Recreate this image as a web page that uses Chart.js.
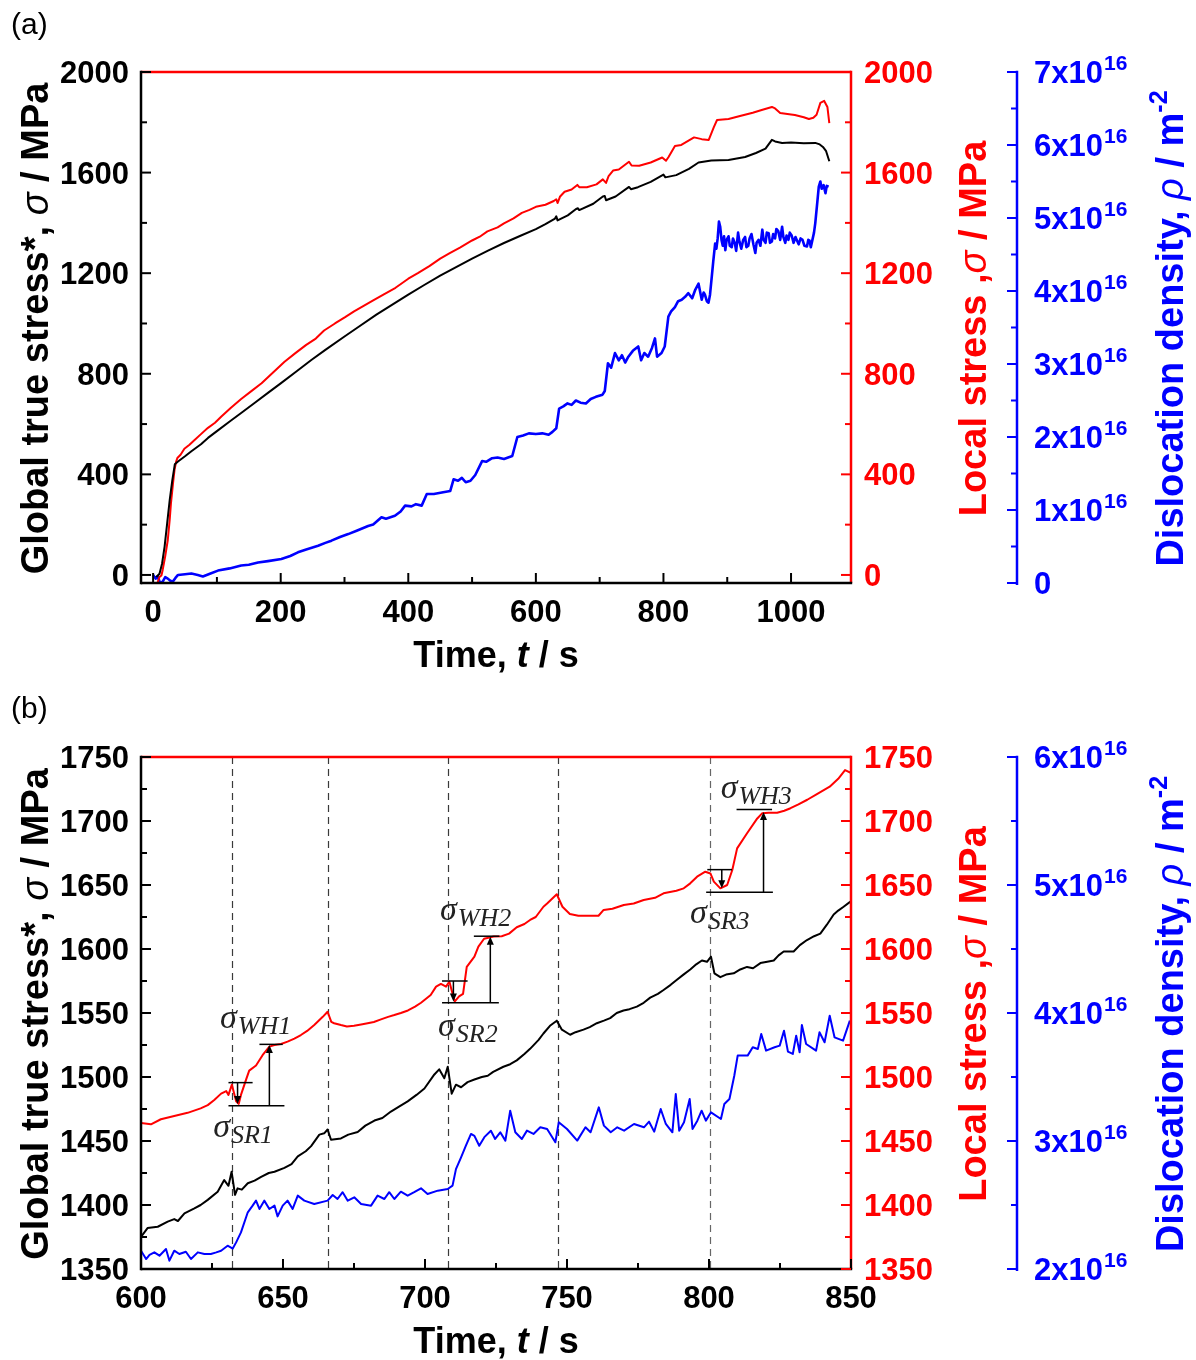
<!DOCTYPE html>
<html><head><meta charset="utf-8">
<script src="https://cdn.jsdelivr.net/npm/chart.js@4.4.0/dist/chart.umd.min.js"></script>
<style>
html,body{margin:0;padding:0;background:#fff;}
#wrap{position:relative;width:1196px;height:1360px;background:#fff;}
canvas{position:absolute;left:0;}
#ca{top:0;} #cb{top:680px;}
</style></head><body>
<div id="wrap"><canvas id="ca" width="1196" height="680"></canvas><canvas id="cb" width="1196" height="680"></canvas></div>
<script>
// ---------- Panel (a) data ----------
const aBlackT=[5,10,14,18,22,26,30,34,39,50,60,75,86,100,120,138,160,180,200,225,248,270,300,320,350,375,400,425,450,475,500,525,550,575,600,615,630,632,634,650,663,666,668,690,705,708,710,725,746,749,760,780,800,803,820,840,855,875,902,928,945,960,970,975,986,1000,1020,1038,1045,1050,1055,1060];
const aBlackS=[-8,5,45,113,205,298,375,440,451,472,492,520,545,572,610,644,686,724,762,810,855,895,948,983,1035,1075,1115,1153,1190,1224,1258,1290,1320,1348,1375,1395,1417,1426,1410,1430,1455,1458,1451,1476,1505,1507,1490,1505,1543,1534,1542,1563,1592,1581,1590,1615,1640,1648,1650,1662,1678,1695,1730,1724,1718,1720,1717,1718,1712,1702,1685,1645];
const aRedT=[7,10,13,15,19,23,26,28,31,33.5,36,38,43,49,57,65,75,86,97,107,122,138,155,170,188,206,223,240,255,268,285,301,315,330,345,361,380,400,415,433,450,465,481,500,512,524,540,550,565,578,590,600,615,628,632,634,638,645,656,665,668,680,695,705,710,714,721,730,746,750,762,780,798,804,808,818,828,848,860,871,879,884,902,920,940,954,970,975,983,1000,1006,1020,1028,1035,1040,1046,1052,1057,1060];
const aRedS=[-30,-8,-2,20,75,139,220,286,360,417,450,465,478,502,518,537,560,585,605,630,665,700,733,762,805,848,882,915,940,972,1000,1025,1048,1070,1092,1115,1142,1178,1200,1228,1258,1280,1302,1330,1345,1366,1382,1398,1418,1440,1452,1464,1472,1487,1494,1479,1505,1524,1533,1551,1542,1542,1553,1573,1559,1586,1608,1612,1643,1628,1627,1640,1660,1647,1662,1706,1710,1740,1733,1730,1781,1809,1813,1825,1838,1849,1861,1855,1837,1831,1829,1820,1813,1818,1830,1877,1885,1861,1797];
const aBlueT=[0,4,7,11,15,19,23,27,31,35,39,50,60,70,78,90,101.7,120,138,150,164.5,180,201,215,227,240,258.6,270,279.5,293,305.8,320,337,345,358,365,379,388,395,405,412,421,429,440,452.6,465.7,471,478,484,490,497.5,505,515.7,522,531.4,540,550,563,571,580,589,600,610,620,626,632,636.5,643,649.6,656,662.7,670,678.4,686,694,704.5,708,713,718,724,730,735,740,745,752,760.5,765,770,776,782,786.7,790,797,802,807.7,812,818,823,828.6,834,839,845,850,855,860,863,865,868,870.6,873,875.8,878,881,883,885,887,889,891,893,895,897,899,902,904,907,909,912,914,917,919,922,925,928,930,933,935,938,941,944,946,949,952,955,957,960,962,965,967,970,972,975,977,980,983,986,988,991,993,996,998,1001,1004,1007,1009,1012,1015,1018,1021,1025,1027,1029,1031,1033,1036,1038,1041,1043.5,1046,1048,1051,1054,1056,1059];
const aBlueR=[0.11,0.06,0.09,0.0,0.02,0.08,0.06,0.03,0.02,0.07,0.11,0.12,0.13,0.11,0.09,0.13,0.17,0.2,0.24,0.25,0.28,0.3,0.33,0.37,0.42,0.46,0.51,0.55,0.58,0.63,0.67,0.72,0.78,0.8,0.9,0.88,0.92,0.98,1.06,1.05,1.08,1.06,1.22,1.22,1.24,1.26,1.42,1.40,1.44,1.38,1.4,1.48,1.67,1.66,1.71,1.72,1.70,1.74,2.0,2.02,2.05,2.04,2.05,2.03,2.07,2.12,2.39,2.42,2.46,2.44,2.5,2.47,2.46,2.52,2.55,2.58,2.63,3.01,2.95,3.15,3.05,3.12,3.02,3.10,3.18,3.24,3.05,3.15,3.10,3.22,3.35,3.1,3.15,3.24,3.65,3.72,3.78,3.86,3.88,3.92,3.97,3.9,4.02,4.1,3.88,3.98,3.95,3.86,3.84,3.95,4.2,4.4,4.65,4.58,4.72,4.95,4.88,4.7,4.62,4.75,4.56,4.7,4.75,4.62,4.6,4.72,4.65,4.55,4.8,4.68,4.58,4.7,4.74,4.6,4.62,4.72,4.78,4.64,4.52,4.66,4.7,4.62,4.84,4.7,4.66,4.8,4.79,4.66,4.68,4.78,4.72,4.85,4.82,4.7,4.88,4.74,4.66,4.76,4.70,4.8,4.76,4.66,4.74,4.7,4.64,4.72,4.70,4.62,4.61,4.7,4.69,4.6,4.68,4.80,4.93,5.2,5.43,5.50,5.40,5.45,5.34,5.44,5.43];
const aXTicks=[0,200,400,600,800,1000];
const aXMinor=[100,300,500,700,900];
const aYTicks=[0,400,800,1200,1600,2000];
const aYMinor=[200,600,1000,1400,1800];
const aRhoTicks=[0,1,2,3,4,5,6,7];
const aRhoMinor=[0.5,1.5,2.5,3.5,4.5,5.5,6.5];

// ---------- Panel (b) data ----------
const bBlackT=[600,602.3,605.9,609.4,611.7,613,615.3,618.8,621,623.5,627,629.3,630.8,631.9,633.1,634,635.5,637.6,640,642.3,645,647,650.5,653,655.2,658,659.9,662.8,664.5,665.7,666.9,670.4,673,676.3,679,682.2,685,688,691,693.9,697,699.8,703.3,705,706.8,708,709.4,710.9,712.7,715,717.4,720,722.1,724,727.6,730,732.3,735,737,740,741.7,744,746.4,748.2,751.1,753,755.8,758,760.5,763,765.2,767.5,769.9,772,774.6,777,779.3,782,784,786.5,788.7,791,793.4,795.5,797.5,799.3,800.7,801.9,804,806,808.7,811,813.4,815.5,818.1,820.5,822.8,824.5,826.3,829.8,832,834.5,837,839.2,841.5,843.9,845.5,847.4,849.8];
const bBlackS=[1375,1382,1383,1387,1389,1387.5,1393.5,1397.4,1400,1404,1410.4,1419.5,1415,1426,1408,1413,1412,1417,1419,1422,1425,1426,1429,1432,1438,1442,1446,1455,1456,1459,1451,1452,1455,1457,1462,1466,1468,1473,1477,1481,1486,1491,1502,1506,1499,1508,1487,1494,1492,1496,1498,1500,1501,1504,1508,1510,1513,1518,1522,1529,1534,1540,1544,1537,1533,1535,1537,1539,1542,1544,1546,1550,1552,1553,1555,1558,1562,1565,1568,1572,1576,1580,1584,1588,1591,1590,1594,1581,1578,1580,1581,1584,1586,1585,1589,1590,1591,1595,1598,1598,1603,1607,1610,1612,1619,1627,1630,1633,1637];
const bRedT=[600,603.5,607,611.7,616.4,621,623.5,625.8,628.2,630,630.8,632,633.5,634.4,635.2,637,638.1,640.5,642.8,645.2,647,649.3,651.6,654,656.3,658.5,661,664,665.7,667,668,670.4,672.5,675,677.5,679.8,682,684.5,687,689.2,691.5,694,696.5,698.6,702,703.9,705.6,707.4,708.6,709.7,710.5,712,713.4,714.7,717.4,718.8,720.8,724.2,727,729.6,732.3,735,737,739,741.7,743,746.4,748.4,751,754,757.9,761.1,762.9,766,770,773.5,777,781,784,788.5,791.1,793.4,795.8,798.7,800.5,801.7,804,806.4,808.2,809.9,813.4,817,818.7,821,824,826.5,828.7,831.5,834.6,838,842.5,845.5,847.9,849.9];
const bRedS=[1464,1463,1467,1469.5,1472,1475.5,1478,1482,1487,1489,1486,1494,1481,1479,1486,1498,1505,1509,1517,1523.7,1525,1525.8,1527.6,1530,1532.8,1536,1540.6,1547,1551,1543,1542,1540.6,1539.5,1540,1541,1542,1543,1545,1547,1548.4,1550,1552,1555,1558,1564,1570.6,1572.7,1570.6,1574.5,1565,1559,1563,1565,1586,1594,1601.8,1608,1609.7,1610,1612,1617,1619.5,1622.7,1625,1633,1635.5,1642.8,1633,1627.3,1626,1626,1626,1630.5,1631.5,1634.4,1635.5,1638.3,1640,1643.5,1645.5,1647.4,1651.3,1656.5,1660.4,1659,1652.6,1647.4,1650,1661.7,1678.6,1690.4,1702,1706,1706.5,1706.5,1708,1710,1713,1716.6,1721,1726.8,1733,1739.8,1737.7];
const bBlueT=[600,601.8,603,604.7,606.5,608.8,610,611.7,613.5,615.8,617.6,620,622.3,624.6,626.5,628.2,630.5,632.3,633.5,635.2,637.6,639.3,640.5,641.7,643.4,645.2,647,648.1,649.9,651.6,653.4,655.2,657.5,661,665.7,667.5,669.2,671,672.8,675.1,677.5,681,683.3,685.7,687.4,689.2,691.5,693.9,696.2,698.6,700.9,704.5,708,709.7,710.9,712.7,714.4,716.2,717.4,719.1,720.9,723.2,724.7,726.5,728.3,730,731.8,734.1,735.9,738.2,740.6,743,745.9,747.1,750,753.6,756.5,758.3,761.2,763,765.4,767.7,770.1,773.6,777.1,778.9,780.7,783,784.8,787.1,788.3,789.5,791.2,793.2,794.2,795.9,797.4,798.9,800.7,804.2,805.4,807.2,808.9,810.1,813.6,815.4,817.2,818.4,820.1,823.1,824.9,826.4,827.8,829.5,830.7,831.9,832.7,834.2,837.7,838.9,840.7,842.5,844.2,847.2,849.6];
const bBlueR=[2.143,2.078,2.11,2.13,2.104,2.156,2.065,2.143,2.117,2.135,2.078,2.13,2.117,2.117,2.13,2.143,2.182,2.16,2.208,2.286,2.443,2.495,2.534,2.469,2.534,2.469,2.495,2.411,2.495,2.534,2.469,2.573,2.534,2.508,2.534,2.578,2.547,2.6,2.534,2.56,2.508,2.495,2.573,2.547,2.6,2.547,2.604,2.573,2.6,2.63,2.586,2.612,2.625,2.651,2.78,2.872,2.963,3.055,3.04,2.963,3.03,3.08,3.016,3.068,3.003,3.237,3.068,3.016,3.081,3.055,3.107,3.094,2.99,3.146,3.094,3.003,3.107,3.068,3.263,3.12,3.068,3.107,3.081,3.133,3.107,3.151,3.073,3.25,3.133,3.068,3.367,3.081,3.146,3.328,3.094,3.159,3.237,3.159,3.224,3.172,3.289,3.328,3.51,3.667,3.667,3.732,3.719,3.836,3.706,3.732,3.745,3.862,3.698,3.68,3.823,3.693,3.906,3.758,3.706,3.849,3.771,3.979,3.81,3.784,3.94];
const bXTicks=[600,650,700,750,800,850];
const bXMinor=[625,675,725,775,825];
const bYTicks=[1350,1400,1450,1500,1550,1600,1650,1700,1750];
const bYMinor=[1375,1425,1475,1525,1575,1625,1675,1725];
const bRhoTicks=[2,3,4,5,6];
const bRhoMinor=[2.5,3.5,4.5,5.5];
// dashed guide lines (time, s)
const bDashT=[632,665.7,708,746.7,800.3];
// annotation segments in data units: [t1, t2, stress]
const bHLines=[[630.8,639.3,1495.6],[630.8,650.5,1477.6],[641.7,649.9,1525.5],
               [706,715,1575],[706,726,1558],[717.2,726.2,1610],
               [799.4,808.1,1662],[799,822.5,1644.3],[809.7,822.2,1709]];
// arrows: [t, stress from, stress to]
const bArrows=[[634,1495.6,1479],[645.2,1477.6,1525],
               [710,1575,1559],[723,1558,1609.6],
               [804.5,1662,1647.4],[819.2,1644.3,1707]];
// labels: [subscript, t, stress]
const bLabels=[['WH1',627.8,1538.3],['SR1',625.4,1453.1],['WH2',705.3,1622.7],['SR2',704.6,1532],['WH3',804.1,1718],['SR3',793.3,1620]];

const FS="'Liberation Sans', Arial, sans-serif";
const SERIF="'Liberation Serif', 'Times New Roman', serif";
const RED='#ff0000', BLUE='#0000ff', BLACK='#000000';

function pts(ts,vs){return ts.map((t,i)=>({x:t,y:vs[i]}));}

function rich(ctx,segs,x,y,rot,color){
  ctx.save();ctx.translate(x,y);ctx.rotate(rot);
  ctx.textAlign='left';ctx.textBaseline='alphabetic';ctx.fillStyle=color;
  let tot=0;segs.forEach(s=>{ctx.font=s.f;s.w=ctx.measureText(s.t).width;tot+=s.w;});
  let cx=-tot/2;
  segs.forEach(s=>{ctx.font=s.f;ctx.fillText(s.t,cx,s.dy||0);cx+=s.w;});
  ctx.restore();
}

function makePlugin(P){
  return {
    id:'deco',
    beforeDatasetsDraw(chart){
      const ctx=chart.ctx,a=chart.chartArea,sx=chart.scales.x;
      if(P.dash){
        ctx.save();ctx.strokeStyle='#3a3a3a';ctx.lineWidth=1.2;ctx.setLineDash([7,5]);
        P.dash.forEach((t,i)=>{const x=Math.round(sx.getPixelForValue(t))+0.5;ctx.strokeStyle=i===P.dash.length-1?'#666':'#3a3a3a';ctx.beginPath();ctx.moveTo(x,a.top);ctx.lineTo(x,a.bottom);ctx.stroke();});
        ctx.restore();
      }
    },
    afterDraw(chart){
      const ctx=chart.ctx,a=chart.chartArea,S=chart.scales;
      const sx=S.x,sy=S.y,sy2=S.y2,sy3=S.y3;
      const BX=1017;
      ctx.save();
      ctx.lineCap='butt';
      ctx.lineWidth=2.5;
      ctx.strokeStyle=RED;
      ctx.beginPath();ctx.moveTo(a.left,a.top);ctx.lineTo(a.right,a.top);ctx.stroke();
      ctx.beginPath();ctx.moveTo(a.right,a.top-1.2);ctx.lineTo(a.right,a.bottom);ctx.stroke();
      ctx.strokeStyle=BLACK;
      ctx.beginPath();ctx.moveTo(a.left,a.top-1.2);ctx.lineTo(a.left,a.bottom+1.2);ctx.stroke();
      ctx.beginPath();ctx.moveTo(a.left,a.bottom);ctx.lineTo(a.right+1.2,a.bottom);ctx.stroke();
      ctx.strokeStyle=BLUE;
      ctx.beginPath();ctx.moveTo(BX,a.top-1.2);ctx.lineTo(BX,a.bottom+2);ctx.stroke();
      ctx.lineWidth=2;
      const tk=(col,list,len,fn)=>{ctx.strokeStyle=col;list.forEach(v=>{ctx.beginPath();fn(v,len);ctx.stroke();});};
      tk(BLACK,P.xT,10,(v,l)=>{const x=sx.getPixelForValue(v);ctx.moveTo(x,a.bottom);ctx.lineTo(x,a.bottom-l);});
      tk(BLACK,P.xM,6,(v,l)=>{const x=sx.getPixelForValue(v);ctx.moveTo(x,a.bottom);ctx.lineTo(x,a.bottom-l);});
      tk(BLACK,P.yT,10,(v,l)=>{const y=sy.getPixelForValue(v);ctx.moveTo(a.left,y);ctx.lineTo(a.left+l,y);});
      tk(BLACK,P.yM,6,(v,l)=>{const y=sy.getPixelForValue(v);ctx.moveTo(a.left,y);ctx.lineTo(a.left+l,y);});
      tk(RED,P.yT,10,(v,l)=>{const y=sy2.getPixelForValue(v);ctx.moveTo(a.right,y);ctx.lineTo(a.right-l,y);});
      tk(RED,P.yM,6,(v,l)=>{const y=sy2.getPixelForValue(v);ctx.moveTo(a.right,y);ctx.lineTo(a.right-l,y);});
      tk(BLUE,P.rT,10,(v,l)=>{const y=sy3.getPixelForValue(v);ctx.moveTo(BX,y);ctx.lineTo(BX-l,y);});
      tk(BLUE,P.rM,6,(v,l)=>{const y=sy3.getPixelForValue(v);ctx.moveTo(BX,y);ctx.lineTo(BX-l,y);});
      const LF='bold 31px '+FS;
      ctx.font=LF;ctx.textBaseline='alphabetic';
      ctx.fillStyle=BLACK;ctx.textAlign='center';
      P.xT.forEach(v=>ctx.fillText(String(v),sx.getPixelForValue(v),a.bottom+39));
      ctx.textAlign='right';
      P.yT.forEach(v=>ctx.fillText(String(v),a.left-12,sy.getPixelForValue(v)+11));
      ctx.fillStyle=RED;ctx.textAlign='left';
      P.yT.forEach(v=>ctx.fillText(String(v),a.right+13,sy2.getPixelForValue(v)+11));
      ctx.fillStyle=BLUE;
      P.rT.forEach(v=>{
        const y=sy3.getPixelForValue(v)+11;
        if(v===0){ctx.font=LF;ctx.fillText('0',BX+17,y);return;}
        ctx.font=LF;const base=v+'x10';ctx.fillText(base,BX+17,y);
        const w=ctx.measureText(base).width;
        ctx.font='bold 21px '+FS;ctx.fillText('16',BX+17+w+1,y-13);
      });
      const TF='bold 38px '+FS, TI='italic 38px '+FS;
      const midY=(a.top+a.bottom)/2+1;
      rich(ctx,[{t:'Time, ',f:'bold 36px '+FS},{t:'t',f:'italic bold 36px '+FS},{t:' / s',f:'bold 36px '+FS}],(a.left+a.right)/2,a.bottom+84,0,BLACK);
      rich(ctx,[{t:'Global true stress*, ',f:TF},{t:'σ',f:TI},{t:' / MPa',f:TF}],48,midY,-Math.PI/2,BLACK);
      rich(ctx,[{t:'Local stress ,',f:TF},{t:'σ',f:TI},{t:' / MPa',f:TF}],986,midY,-Math.PI/2,RED);
      rich(ctx,[{t:'Dislocation density, ',f:TF},{t:'ρ',f:TI},{t:' / m',f:TF},{t:'-2',f:'bold 25px '+FS,dy:-16}],1183,midY,-Math.PI/2,BLUE);
      ctx.font='30px '+FS;ctx.fillStyle=BLACK;ctx.textAlign='left';
      ctx.fillText(P.letter,11,P.letterY);
      if(P.hl){
        ctx.strokeStyle=BLACK;ctx.fillStyle=BLACK;ctx.lineWidth=1.5;
        P.hl.forEach(h=>{const y=sy2.getPixelForValue(h[2]);ctx.beginPath();ctx.moveTo(sx.getPixelForValue(h[0]),y);ctx.lineTo(sx.getPixelForValue(h[1]),y);ctx.stroke();});
        P.ar.forEach(r=>{
          const x=sx.getPixelForValue(r[0]),y1=sy2.getPixelForValue(r[1]),y2=sy2.getPixelForValue(r[2]);
          const d=y2>y1?1:-1;
          ctx.beginPath();ctx.moveTo(x,y1);ctx.lineTo(x,y2-d*6);ctx.stroke();
          ctx.beginPath();ctx.moveTo(x,y2);ctx.lineTo(x-3.5,y2-d*8);ctx.lineTo(x+3.5,y2-d*8);ctx.closePath();ctx.fill();
        });
        P.lb.forEach(l=>{
          const x=sx.getPixelForValue(l[1]),y=sy2.getPixelForValue(l[2]);
          ctx.textAlign='left';ctx.fillStyle='#222';
          ctx.font='italic 34px '+SERIF;ctx.fillText('σ',x,y);
          const w=ctx.measureText('σ').width;
          ctx.font='italic 26px '+SERIF;ctx.fillText(l[0],x+w+1,y+6);
        });
      }
      ctx.restore();
    }
  };
}

function makeChart(id,P){
  const ds=(t,v,axis,col,w)=>({data:pts(t,v),yAxisID:axis,borderColor:col,borderWidth:w,pointRadius:0,tension:0,fill:false,borderJoinStyle:'round'});
  return new Chart(document.getElementById(id),{
    type:'line',
    data:{datasets:[ds(P.bkT,P.bkS,'y',BLACK,2),ds(P.rdT,P.rdS,'y2',RED,2),ds(P.blT,P.blR,'y3',BLUE,P.blW)]},
    options:{
      responsive:false,animation:false,devicePixelRatio:1,
      layout:{padding:P.pad},
      plugins:{legend:{display:false},tooltip:{enabled:false}},
      scales:{
        x:{type:'linear',min:P.xr[0],max:P.xr[1],display:false},
        y:{type:'linear',min:P.yr[0],max:P.yr[1],display:false},
        y2:{type:'linear',position:'right',min:P.yr[0],max:P.yr[1],display:false},
        y3:{type:'linear',position:'right',min:P.rr[0],max:P.rr[1],display:false}
      }
    },
    plugins:[makePlugin(P)]
  });
}

makeChart('ca',{letter:'(a)',letterY:34,pad:{left:141,right:345,top:72,bottom:97},
  xr:[-19,1094],yr:[-32,2000],rr:[0,7],
  xT:aXTicks,xM:aXMinor,yT:aYTicks,yM:aYMinor,rT:aRhoTicks,rM:aRhoMinor,
  bkT:aBlackT,bkS:aBlackS,rdT:aRedT,rdS:aRedS,blT:aBlueT,blR:aBlueR,blW:2.6});
makeChart('cb',{letter:'(b)',letterY:38,pad:{left:141,right:345,top:77,bottom:91},
  xr:[600,850],yr:[1350,1750],rr:[2,6],
  xT:bXTicks,xM:bXMinor,yT:bYTicks,yM:bYMinor,rT:bRhoTicks,rM:bRhoMinor,
  bkT:bBlackT,bkS:bBlackS,rdT:bRedT,rdS:bRedS,blT:bBlueT,blR:bBlueR,blW:2,
  dash:bDashT,hl:bHLines,ar:bArrows,lb:bLabels});
</script>
</body></html>
